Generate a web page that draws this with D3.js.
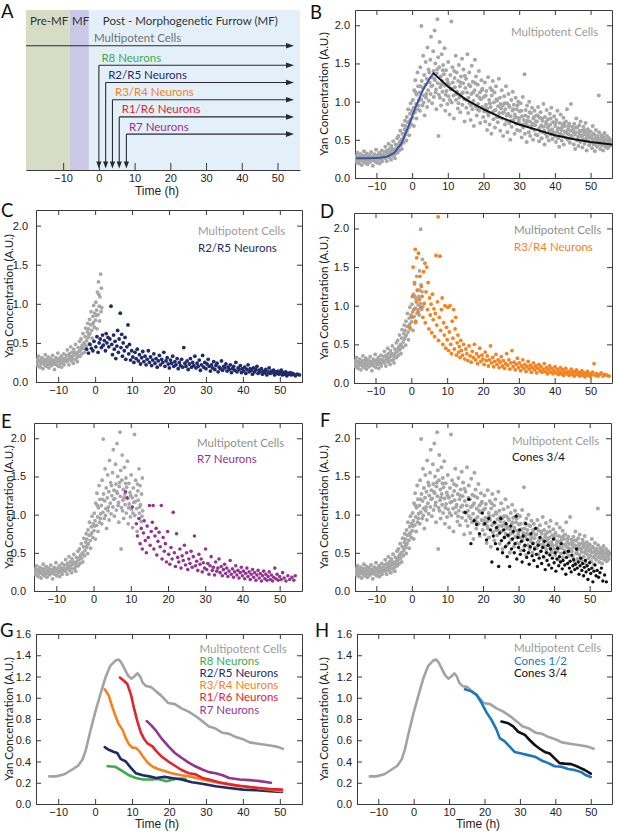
<!DOCTYPE html>
<html><head><meta charset="utf-8">
<script src="https://cdn.jsdelivr.net/npm/d3@7"></script>
<style>
body{margin:0;background:#fff;}
svg{display:block;}
.tk text{font-family:"Liberation Sans",Arial,sans-serif;font-size:11px;fill:#222;}
.tk path,.tk line{stroke:#3a3a3a;stroke-width:1;}
</style></head><body>
<svg id="c" width="617" height="833"></svg>
<script>
// ---------- DATA ----------
const timeTicks = [-10,0,10,20,30,40,50];
const concTicks = [0,0.5,1,1.5,2];
const avgTicks = [0,0.2,0.4,0.6,0.8,1.0,1.2,1.4,1.6];

// Panel A
const zoneNames = ["Pre-MF","MF","Post - Morphogenetic Furrow (MF)"];
const zoneFrom = [-20.4,-8.2,-2.8];
const zoneTo = [-8.2,-2.8,56.3];
const lineageNames = ["R8 Neurons","R2/R5 Neurons","R3/R4 Neurons","R1/R6 Neurons","R7 Neurons"];
const lineageStart = [0,1.9,3.8,5.7,7.7];

// Multipotent cells scatter [time (h), Yan (A.U.)]
const multipotentCells = [
[-15.8,0.24],[-15.6,0.29],[-15.5,0.21],[-15.3,0.33],[-15.1,0.26],[-14.9,0.19],[-14.8,0.28],[-14.6,0.23],[-14.4,0.31],[-14.2,0.25],[-14.1,0.17],[-13.9,0.27],[-13.7,0.22],[-13.5,0.35],[-13.4,0.26],[-13.2,0.2],[-13.0,0.29],[-12.8,0.24],[-12.7,0.32],[-12.5,0.18],[-12.3,0.27],[-12.2,0.23],[-12.0,0.3],
[-11.8,0.21],[-11.7,0.26],[-11.5,0.34],[-11.3,0.24],[-11.1,0.28],[-11.0,0.16],[-10.8,0.25],[-10.6,0.31],[-10.4,0.22],[-10.3,0.27],[-10.1,0.37],[-9.9,0.2],[-9.8,0.26],[-9.6,0.3],[-9.4,0.24],[-9.2,0.33],[-9.1,0.19],[-8.9,0.28],[-8.7,0.25],[-8.5,0.36],[-8.4,0.22],[-8.2,0.3],[-8.0,0.27],
[-7.8,0.34],[-7.6,0.26],[-7.5,0.41],[-7.3,0.29],[-7.1,0.22],[-7.0,0.36],[-6.8,0.31],[-6.6,0.45],[-6.5,0.27],[-6.3,0.38],[-6.1,0.33],[-5.9,0.24],[-5.8,0.42],[-5.6,0.35],[-5.4,0.29],[-5.3,0.48],[-5.1,0.37],[-4.9,0.31],[-4.8,0.26],[-4.6,0.44],[-4.4,0.39],[-4.2,0.52],[-4.1,0.33],
[-3.9,0.41],[-3.8,0.55],[-3.6,0.36],[-3.5,0.47],[-3.3,0.62],[-3.2,0.43],[-3.0,0.5],[-2.9,0.38],[-2.7,0.58],[-2.6,0.69],[-2.4,0.46],[-2.3,0.53],[-2.1,0.64],[-2.0,0.75],
[-1.9,0.57],[-1.8,0.68],[-1.6,0.49],[-1.5,0.8],[-1.4,0.62],[-1.2,0.73],[-1.1,0.9],[-0.9,0.66],[-0.8,0.56],[-0.6,0.84],[-0.5,0.76],[-0.4,0.98],[-0.2,0.7],[-0.1,0.88],
[0.1,0.79],[0.2,1.02],[0.4,0.92],[0.5,0.68],[0.6,1.15],[0.8,0.86],[0.9,1.28],[1.1,0.97],[1.2,0.78],[1.3,1.09],[1.5,1.38],[1.6,0.9],[1.7,1.2],[1.9,1.01],
[2.1,1.12],[2.2,0.88],[2.3,1.45],[2.5,1.03],[2.6,1.99],[2.7,1.27],[2.9,0.95],[3.0,1.18],[3.1,1.6],[3.3,1.08],[3.4,1.35],[3.5,0.82],[3.7,1.22],[3.8,1.52],[3.9,1.05],[4.1,1.3],[4.2,0.93],[4.3,1.71],[4.5,1.15],[4.6,1.42],[4.7,1.01],[4.9,1.25],
[5.1,1.55],[5.2,1.1],[5.3,1.85],[5.5,1.32],[5.6,0.98],[5.7,1.21],[5.9,1.66],[6.0,1.4],[6.1,1.06],[6.3,1.93],[6.4,1.28],[6.5,1.5],[6.7,1.16],[6.8,0.9],[6.9,1.37],[7.1,2.08],[7.2,1.24],[7.3,1.58],[7.4,0.55],[7.5,1.09],[7.6,1.45],[7.7,1.78],[7.9,1.19],[8.0,1.33],[8.1,0.95],[8.3,1.62],[8.4,1.27],[8.5,1.13],[8.7,1.48],[8.8,1.02],[8.9,1.36],[9.1,1.7],[9.2,1.21],
[9.3,0.88],[9.5,1.41],[9.6,1.14],[9.8,1.29],[9.9,0.97],[10.1,1.52],[10.2,1.07],[10.4,1.22],[10.5,0.83],[10.7,1.35],[10.8,1.16],[11.0,2.05],[11.1,0.99],[11.3,1.45],[11.4,1.25],[11.6,1.08],[11.7,0.78],[11.9,1.31],[12.0,1.19],[12.2,1.6],[12.3,1.02],[12.5,1.38],[12.6,1.13],[12.8,0.91],[12.9,1.27],[13.1,1.48],[13.2,1.05],[13.4,1.2],[13.5,0.86],[13.7,1.33],[13.8,1.1],[14.0,1.56],[14.1,0.96],[14.3,1.24],[14.4,1.42],[14.6,1.03],[14.7,0.74],[14.9,1.18],
[15.1,1.3],[15.2,0.92],[15.4,1.12],[15.5,1.62],[15.7,0.85],[15.8,1.05],[16.0,1.38],[16.1,0.98],[16.3,1.2],[16.4,0.76],[16.6,1.1],[16.7,1.47],[16.9,0.9],[17.0,1.26],[17.2,1.01],[17.3,0.68],[17.5,1.15],[17.6,1.55],[17.8,0.94],[17.9,1.33],[18.1,0.82],[18.2,1.08],[18.4,1.22],[18.5,0.97],[18.7,1.4],[18.8,0.88],[19.0,1.12],[19.1,0.72],[19.3,1.03],[19.4,1.28],[19.6,0.93],[19.7,1.17],[19.9,0.8],
[20.1,1.06],[20.2,0.87],[20.4,1.25],[20.5,0.74],[20.7,0.96],[20.8,1.14],[21.0,0.63],[21.1,0.91],[21.3,1.32],[21.4,0.82],[21.6,1.02],[21.7,0.7],[21.9,1.18],[22.0,0.93],[22.2,0.58],[22.3,1.08],[22.5,0.86],[22.6,1.27],[22.8,0.77],[22.9,0.99],[23.1,1.12],[23.2,0.66],[23.4,0.89],[23.5,1.2],[23.7,0.8],[23.8,1.01],[24.0,0.73],[24.1,0.94],[24.3,1.3],[24.4,0.85],[24.6,1.05],[24.7,0.62],[24.9,0.91],
[25.1,1.15],[25.2,0.78],[25.4,0.95],[25.5,0.55],[25.7,0.86],[25.8,1.07],[26.0,0.7],[26.1,0.9],[26.3,1.2],[26.4,0.75],[26.6,0.98],[26.7,0.6],[26.9,0.84],[27.0,1.1],[27.2,0.72],[27.3,0.93],[27.5,0.5],[27.6,0.81],[27.8,1.02],[27.9,0.67],[28.1,0.88],[28.2,1.13],[28.4,0.76],[28.5,0.96],[28.7,0.58],[28.8,0.83],[29.0,1.05],[29.1,0.71],[29.3,0.9],[29.4,0.63],[29.6,0.79],[29.7,1.0],[29.9,0.74],
[30.1,0.87],[30.2,0.62],[30.4,0.98],[30.5,0.7],[30.7,0.53],[30.8,0.81],[31.0,1.06],[31.1,0.66],[31.3,0.76],[31.5,1.36],[31.6,0.58],[31.8,0.89],[31.9,0.72],[32.1,0.47],[32.2,0.95],[32.4,0.68],[32.5,0.8],[32.7,0.6],[32.8,1.0],[33.0,0.74],[33.1,0.55],[33.3,0.85],[33.4,0.65],[33.6,0.92],[33.7,0.71],[33.9,0.5],[34.0,0.78],[34.2,0.63],[34.3,0.88],[34.5,0.69],[34.6,0.57],[34.8,0.82],
[35.0,0.74],[35.1,0.56],[35.3,0.93],[35.4,0.64],[35.6,0.48],[35.7,0.79],[35.9,0.61],[36.0,0.86],[36.2,0.69],[36.3,0.52],[36.5,0.75],[36.6,0.6],[36.8,0.97],[36.9,0.67],[37.1,0.44],[37.2,0.8],[37.4,0.58],[37.5,0.71],[37.7,0.89],[37.8,0.54],[38.0,0.66],[38.1,0.77],[38.3,0.49],[38.4,0.62],[38.6,0.84],[38.7,0.7],[38.9,0.57],[39.0,0.92],[39.2,0.64],[39.3,0.51],[39.5,0.73],[39.6,0.6],[39.8,0.81],
[40.0,0.55],[40.1,0.68],[40.3,0.47],[40.4,0.76],[40.6,0.6],[40.7,0.88],[40.9,0.52],[41.0,0.65],[41.2,0.41],[41.3,0.72],[41.5,0.58],[41.6,0.83],[41.8,0.63],[41.9,0.49],[42.1,0.7],[42.2,0.56],[42.4,0.79],[42.5,0.44],[42.7,0.61],[42.8,0.68],[43.0,0.53],[43.1,0.74],[43.3,0.59],[43.4,0.9],[43.6,0.5],[43.7,0.64],[43.9,0.57],[44.0,0.71],[44.2,0.46],[44.3,0.62],[44.5,0.97],[44.6,0.55],[44.8,0.67],
[45.0,0.52],[45.1,0.63],[45.3,0.44],[45.4,0.71],[45.6,0.57],[45.7,0.38],[45.9,0.6],[46.0,0.78],[46.2,0.49],[46.3,0.66],[46.5,0.54],[46.6,0.42],[46.8,0.69],[46.9,0.58],[47.1,0.47],[47.2,0.74],[47.4,0.55],[47.5,0.62],[47.7,0.4],[47.8,0.51],[48.0,0.67],[48.1,0.57],[48.3,0.45],[48.4,0.6],[48.6,0.72],[48.7,0.5],[48.9,0.36],[49.0,0.56],[49.2,0.64],[49.3,0.48],[49.5,0.58],[49.6,0.43],[49.8,0.53],
[50.0,0.61],[50.1,0.46],[50.3,0.55],[50.4,0.39],[50.6,0.68],[50.7,0.5],[50.9,0.44],[51.0,0.57],[51.2,0.35],[51.3,0.52],[51.5,0.63],[51.6,0.47],[51.8,0.41],[51.9,0.55],[52.1,0.49],[52.3,1.08],[52.4,0.6],[52.6,0.44],[52.7,0.38],[52.9,0.51],[53.0,0.56],[53.2,0.43],[53.3,0.48],[53.5,0.36],[53.6,0.53],[53.8,0.46],[53.9,0.59],[54.1,0.41],[54.2,0.5],[54.4,0.44],[54.6,0.55],[54.8,0.39],[55.0,0.47],[55.2,0.52],[55.4,0.42],[55.6,0.49],
[-15.4,0.27],[-14.5,0.26],[-13.6,0.29],[-12.9,0.22],[-11.9,0.28],[-11.2,0.23],[-10.2,0.29],[-9.5,0.27],[-8.6,0.3],[-7.7,0.29],[-6.9,0.33],[-6.2,0.29],[-5.5,0.38],[-4.7,0.35],[-3.7,0.44],[-2.8,0.48],[-1.7,0.6],[-0.7,0.74],[0.3,0.85],[1.0,1.12],[1.8,0.95],[2.4,1.2],[3.2,0.99],[4.0,1.1],[4.8,1.38],[5.4,1.2],[6.2,1.3],[6.6,1.12],[7.0,1.42],[7.8,1.05],[8.2,1.22],[8.6,1.41],[9.4,1.09],[10.0,1.25],[10.6,1.02],[11.2,1.17],[11.8,1.4],[12.4,1.1],[13.0,0.98],[13.6,1.25],[14.2,1.12],[14.8,1.34],
[15.3,1.02],[15.9,1.22],[16.5,0.95],[17.1,1.12],[17.7,1.24],[18.3,0.9],[18.9,1.05],[19.5,1.15],[20.0,0.92],[20.6,1.08],[21.2,0.85],[21.8,0.98],[22.4,1.15],[23.0,0.88],[23.6,1.03],[24.2,0.8],[24.8,0.97],[25.3,0.85],[25.9,0.98],[26.5,0.82],[27.1,0.95],[27.7,0.75],[28.3,0.9],[28.9,0.8],[29.5,0.95],[30.0,0.78],[30.6,0.88],[31.2,0.7],[31.7,0.82],[32.3,0.75],[32.9,0.86],[33.5,0.68],[34.1,0.8],[34.7,0.74],
[35.2,0.82],[35.8,0.66],[36.4,0.78],[37.0,0.62],[37.6,0.74],[38.2,0.68],[38.8,0.78],[39.4,0.6],[40.2,0.72],[40.8,0.64],[41.4,0.56],[42.0,0.66],[42.6,0.72],[43.2,0.6],[43.8,0.68],[44.4,0.52],[45.2,0.6],[45.8,0.66],[46.4,0.5],[47.0,0.62],[47.6,0.55],[48.2,0.63],[48.8,0.52],[49.4,0.6],[50.2,0.52],[50.8,0.58],[51.4,0.45],[52.0,0.53],[52.8,0.47],[53.4,0.55],[54.0,0.5],[54.5,0.42],[55.3,0.46]
];

const r2r5Neurons = [
[-2.3,0.42],[-1.8,0.37],[-1.4,0.48],[-1.0,0.43],[-0.6,0.4],[-0.3,0.52],[0.2,0.45],[0.5,0.58],[0.8,0.38],[1.1,0.5],[1.4,0.55],[1.7,0.44],[2.0,0.6],[2.2,0.47],[2.5,0.53],[2.8,0.4],[3.0,0.62],[3.2,0.5],[3.5,0.57],[3.7,0.45],[4.0,0.55],[4.3,0.97],[4.5,0.48],[4.7,0.35],[5.0,0.6],[5.2,0.42],[5.4,0.52],[5.6,0.3],[5.9,0.46],[6.1,0.66],[6.3,0.38],[6.5,0.55],[6.8,0.88],[7.0,0.44],[7.2,0.61],[7.4,0.33],[7.6,0.5],[7.9,0.4],[8.1,0.57],[8.3,0.29],[8.6,0.45],[8.9,0.73],[9.1,0.36],[9.3,0.48],[9.6,0.28],[9.9,0.4],
[10.2,0.32],[10.5,0.25],[10.8,0.38],[11.1,0.3],[11.4,0.42],[11.7,0.27],[12.0,0.35],[12.3,0.23],[12.6,0.31],[12.9,0.39],[13.2,0.26],[13.5,0.33],[13.8,0.22],[14.1,0.29],[14.4,0.4],[14.7,0.25],[15.0,0.32],[15.3,0.21],[15.6,0.28],[15.9,0.36],[16.2,0.24],[16.5,0.3],[16.8,0.19],[17.1,0.27],[17.4,0.34],[17.7,0.22],[18.0,0.29],[18.3,0.25],[18.6,0.38],[18.9,0.2],[19.2,0.27],[19.5,0.31],[19.8,0.23],
[20.1,0.18],[20.4,0.28],[20.7,0.24],[21.0,0.33],[21.3,0.2],[21.6,0.26],[21.9,0.22],[22.2,0.3],[22.5,0.17],[22.8,0.25],[23.1,0.21],[23.4,0.29],[23.7,0.19],[24.0,0.44],[24.3,0.24],[24.6,0.2],[24.9,0.27],[25.2,0.16],[25.5,0.23],[25.8,0.3],[26.1,0.19],[26.4,0.25],[26.7,0.21],[27.0,0.33],[27.3,0.18],[27.6,0.24],[27.9,0.2],[28.2,0.28],[28.5,0.15],[28.8,0.22],[29.1,0.34],[29.4,0.19],[29.7,0.25],
[30.0,0.17],[30.3,0.23],[30.6,0.29],[30.9,0.2],[31.2,0.14],[31.5,0.22],[31.8,0.18],[32.1,0.26],[32.4,0.16],[32.7,0.21],[33.0,0.24],[33.3,0.13],[33.6,0.19],[33.9,0.17],[34.2,0.27],[34.5,0.15],[34.8,0.2],[35.1,0.18],[35.4,0.23],[35.7,0.14],[36.0,0.19],[36.3,0.16],[36.6,0.22],[36.9,0.12],[37.2,0.17],[37.5,0.2],[37.8,0.15],[38.1,0.25],[38.4,0.13],[38.7,0.18],[39.0,0.16],[39.3,0.21],[39.6,0.12],[39.9,0.17],
[40.2,0.14],[40.5,0.19],[40.8,0.11],[41.1,0.16],[41.4,0.22],[41.7,0.13],[42.0,0.17],[42.3,0.15],[42.6,0.1],[42.9,0.18],[43.2,0.13],[43.5,0.16],[43.8,0.2],[44.1,0.11],[44.4,0.15],[44.7,0.13],[45.0,0.17],[45.3,0.1],[45.6,0.14],[45.9,0.12],[46.2,0.16],[46.5,0.09],[46.8,0.13],[47.1,0.18],[47.4,0.11],[47.7,0.14],[48.0,0.12],[48.3,0.15],[48.6,0.09],[48.9,0.13],[49.2,0.11],[49.5,0.14],[49.8,0.1],
[50.1,0.12],[50.4,0.15],[50.7,0.09],[51.0,0.12],[51.3,0.1],[51.6,0.13],[51.9,0.08],[52.2,0.11],[52.5,0.1],[52.8,0.12],[53.1,0.09],[53.4,0.11],[53.8,0.1],[54.2,0.08],[54.7,0.1],[55.3,0.09]
];

const r3r4Neurons = [
[-0.5,0.72],[0.1,0.86],[0.3,1.12],[0.5,1.5],[0.7,0.95],[0.9,1.3],[1.1,1.73],[1.2,0.8],[1.4,1.05],[1.5,1.62],[1.7,1.2],[1.9,0.92],[2.0,1.68],[2.2,1.08],[2.4,1.38],[2.6,0.98],[2.8,1.25],[3.0,1.12],[3.2,0.85],[3.4,1.44],[3.6,1.03],[3.8,1.55],[3.9,0.78],[4.1,1.18],[4.3,1.5],[4.5,0.95],[4.7,1.3],[4.9,0.7],
[5.1,1.1],[5.3,0.88],[5.5,1.02],[5.7,0.65],[5.9,1.15],[6.1,0.82],[6.3,0.96],[6.5,0.6],[6.7,0.9],[6.9,1.65],[7.1,0.75],[7.3,1.05],[7.5,2.15],[7.6,0.55],[7.8,0.85],[8.0,1.64],[8.2,0.68],[8.4,0.95],[8.6,1.1],[8.8,0.5],[9.0,0.78],[9.2,0.62],[9.4,1.0],[9.6,0.45],[9.8,0.72],
[10.0,0.56],[10.2,0.98],[10.4,0.42],[10.6,0.66],[10.8,1.0],[11.0,0.5],[11.2,0.38],[11.4,0.8],[11.6,0.58],[11.8,0.95],[12.0,0.44],[12.2,0.7],[12.4,0.85],[12.6,0.36],[12.8,0.52],[13.0,0.62],[13.2,0.4],[13.4,0.47],[13.6,0.33],[13.8,0.55],[14.0,0.42],[14.3,0.36],[14.6,0.5],[14.9,0.31],
[15.2,0.44],[15.5,0.38],[15.8,0.29],[16.1,0.48],[16.4,0.35],[16.7,0.27],[17.0,0.41],[17.3,0.33],[17.6,0.5],[17.9,0.3],[18.2,0.38],[18.5,0.25],[18.8,0.34],[19.1,0.45],[19.4,0.28],[19.7,0.36],
[20.0,0.31],[20.3,0.24],[20.6,0.4],[20.9,0.29],[21.2,0.35],[21.5,0.22],[21.8,0.3],[22.1,0.48],[22.4,0.26],[22.7,0.33],[23.0,0.21],[23.3,0.28],[23.6,0.37],[23.9,0.24],[24.2,0.3],[24.5,0.2],[24.8,0.27],[25.1,0.34],[25.4,0.22],[25.7,0.29],[26.0,0.19],[26.3,0.25],[26.6,0.38],[26.9,0.23],[27.2,0.3],[27.5,0.18],[27.8,0.26],[28.1,0.42],[28.4,0.21],[28.7,0.27],[29.0,0.17],[29.3,0.24],[29.6,0.32],[29.9,0.2],
[30.2,0.26],[30.5,0.16],[30.8,0.22],[31.1,0.3],[31.4,0.19],[31.7,0.24],[32.0,0.15],[32.3,0.21],[32.6,0.28],[32.9,0.18],[33.2,0.23],[33.5,0.14],[33.8,0.2],[34.1,0.26],[34.4,0.17],[34.7,0.22],[35.0,0.13],[35.3,0.19],[35.6,0.24],[35.9,0.16],[36.2,0.21],[36.5,0.14],[36.8,0.18],[37.1,0.25],[37.4,0.15],[37.7,0.2],[38.0,0.12],[38.3,0.17],[38.6,0.22],[38.9,0.14],[39.2,0.19],[39.5,0.12],[39.8,0.16],
[40.1,0.21],[40.4,0.13],[40.7,0.18],[41.0,0.11],[41.3,0.15],[41.6,0.2],[41.9,0.12],[42.2,0.17],[42.5,0.1],[42.8,0.14],[43.1,0.19],[43.4,0.12],[43.7,0.15],[44.0,0.1],[44.3,0.14],[44.6,0.18],[44.9,0.11],[45.2,0.15],[45.5,0.09],[45.8,0.13],[46.1,0.17],[46.4,0.11],[46.7,0.14],[47.0,0.09],[47.3,0.12],[47.6,0.16],[47.9,0.1],[48.2,0.13],[48.5,0.08],[48.8,0.12],[49.1,0.15],[49.4,0.1],[49.7,0.12],
[50.0,0.08],[50.3,0.11],[50.6,0.14],[51.0,0.25],[51.3,0.1],[51.7,0.12],[52.1,0.09],[52.5,0.11],[53.0,0.13],[53.5,0.09],[54.0,0.11],[54.6,0.1],[55.2,0.09]
];

const r7Neurons = [
[8.6,1.3],[9.0,1.22],[10.4,1.1],[11.5,0.88],[11.8,0.72],[12.2,0.95],[12.5,0.62],[12.8,0.82],[13.1,0.55],[13.4,0.76],[13.6,0.92],[13.9,0.66],[14.2,0.5],[14.4,0.85],[14.7,0.7],[15.0,1.12],[15.2,0.6],[15.5,0.78],[15.8,0.9],[16.0,1.12],[16.2,0.55],[16.5,0.72],[16.8,0.82],[17.0,0.47],[17.3,0.65],[17.6,0.77],[17.9,0.58],[18.2,1.12],[18.4,0.42],[18.7,0.7],[19.0,0.52],[19.3,0.62],[19.6,0.38],[19.9,0.78],
[20.2,0.48],[20.5,0.35],[20.8,0.57],[21.1,0.42],[21.4,1.03],[21.7,0.5],[22.0,0.32],[22.3,0.75],[22.6,0.44],[22.9,0.38],[23.2,0.55],[23.5,0.3],[23.8,0.46],[24.1,0.4],[24.4,0.6],[24.7,0.34],[25.0,0.5],[25.3,0.28],[25.6,0.42],[25.9,0.36],[26.2,0.52],[26.5,0.31],[26.8,0.45],[27.1,0.72],[27.4,0.33],[27.7,0.39],[28.0,0.27],[28.3,0.48],[28.6,0.35],[28.9,0.42],[29.2,0.25],[29.5,0.37],[29.8,0.3],
[30.1,0.55],[30.4,0.28],[30.7,0.36],[31.0,0.22],[31.3,0.33],[31.6,0.45],[31.9,0.27],[32.2,0.31],[32.5,0.21],[32.8,0.38],[33.1,0.26],[33.4,0.3],[33.7,0.42],[34.0,0.24],[34.3,0.32],[34.6,0.2],[34.9,0.28],[35.2,0.35],[35.5,0.23],[35.8,0.3],[36.1,0.19],[36.4,0.26],[36.7,0.4],[37.0,0.22],[37.3,0.29],[37.6,0.18],[37.9,0.25],[38.2,0.33],[38.5,0.21],[38.8,0.27],[39.1,0.17],[39.4,0.24],[39.7,0.31],
[40.0,0.2],[40.3,0.26],[40.6,0.16],[40.9,0.23],[41.2,0.3],[41.5,0.19],[41.8,0.25],[42.1,0.15],[42.4,0.22],[42.7,0.28],[43.0,0.18],[43.3,0.24],[43.6,0.14],[43.9,0.21],[44.2,0.27],[44.5,0.17],[44.8,0.23],[45.1,0.13],[45.4,0.2],[45.7,0.26],[46.0,0.16],[46.3,0.22],[46.6,0.14],[46.9,0.19],[47.2,0.25],[47.5,0.15],[47.8,0.21],[48.1,0.13],[48.4,0.18],[48.7,0.3],[49.0,0.16],[49.3,0.22],[49.6,0.14],
[50.0,0.19],[50.4,0.15],[50.8,0.24],[51.2,0.17],[51.7,0.13],[52.2,0.2],[52.7,0.15],[53.3,0.18],[53.8,0.14],[54.2,0.2]
];

const cones34Cells = [
[15.0,1.03],[16.0,1.2],[16.6,0.62],[17.5,0.92],[18.2,0.87],[19.0,0.75],[19.8,1.02],[20.5,0.88],[21.0,0.67],[21.6,0.95],[22.1,0.8],[22.5,0.38],[22.9,0.72],[23.2,0.9],[23.5,0.62],[23.8,0.83],[24.1,0.55],[24.4,0.32],[24.7,0.76],[25.0,0.95],[25.2,0.66],[25.5,0.5],[25.8,0.8],[26.0,0.7],[26.3,0.58],[26.5,0.88],[26.8,0.45],[27.0,0.73],[27.3,0.63],[27.5,0.32],[27.8,0.85],[28.0,0.55],[28.3,0.68],[28.5,0.78],[28.8,0.5],[29.0,0.62],[29.3,0.98],[29.5,0.42],[29.8,0.7],
[30.0,0.57],[30.3,0.8],[30.5,0.48],[30.8,0.65],[31.0,0.38],[31.3,0.72],[31.5,0.53],[31.8,0.6],[32.0,0.88],[32.3,0.44],[32.5,0.67],[32.8,0.5],[33.0,0.35],[33.3,0.58],[33.5,0.75],[33.8,0.46],[34.0,0.62],[34.3,0.4],[34.5,0.55],[34.8,0.82],[35.0,0.48],[35.3,0.32],[35.5,0.6],[35.8,0.43],[36.0,0.7],[36.3,0.52],[36.5,0.36],[36.8,0.57],[37.0,0.45],[37.3,0.65],[37.5,0.28],[37.8,0.5],[38.0,0.4],[38.3,0.6],[38.5,0.34],[38.8,0.47],[39.0,0.55],[39.3,0.3],[39.5,0.43],[39.8,0.68],
[40.0,0.37],[40.3,0.5],[40.5,0.26],[40.8,0.42],[41.0,0.56],[41.3,0.33],[41.5,0.45],[41.8,0.38],[42.0,0.62],[42.3,0.29],[42.5,0.4],[42.8,0.5],[43.0,0.34],[43.3,0.22],[43.5,0.44],[43.8,0.36],[44.0,0.52],[44.3,0.3],[44.5,0.39],[44.8,0.25],[45.0,0.47],[45.3,0.33],[45.5,0.41],[45.8,0.28],[46.0,0.35],[46.3,0.55],[46.5,0.3],[46.8,0.38],[47.0,0.22],[47.3,0.33],[47.5,0.43],[47.8,0.27],[48.0,0.36],[48.3,0.2],[48.5,0.31],[48.8,0.4],[49.0,0.25],[49.3,0.33],[49.5,0.15],[49.8,0.28],
[50.0,0.37],[50.3,0.23],[50.6,0.3],[50.9,0.12],[51.2,0.26],[51.5,0.34],[51.8,0.2],[52.1,0.27],[52.5,0.18],[52.9,0.24],[53.3,0.3],[53.7,0.13],[54.2,0.21],[54.7,0.12]
];

// Panel B fitted curves
const riseFit = [[-15.5,0.26],[-12,0.26],[-9,0.265],[-7,0.28],[-5,0.33],[-3,0.45],[-1,0.68],[1,0.93],[3,1.15],[5,1.31],[6,1.37]];
const decayFit = [[6,1.37],[10,1.2],[15,1.03],[20,0.9],[25,0.79],[30,0.7],[35,0.63],[40,0.56],[45,0.51],[50,0.47],[56,0.44]];

// Panels G/H moving averages
const avgMultipotent = [[-12.4,0.26],[-10.6,0.26],[-8.3,0.28],[-6.4,0.32],[-4.6,0.36],[-3.4,0.42],[-2.5,0.51],[-1.4,0.67],[0,0.86],[1.4,1.03],[2.8,1.19],[4.1,1.3],[5.5,1.35],[6.4,1.36],[7.1,1.33],[8.0,1.27],[8.9,1.21],[9.8,1.18],[10.6,1.2],[11.5,1.23],[12.2,1.2],[12.9,1.14],[13.8,1.11],[15.2,1.1],[16.5,1.06],[17.9,1.02],[19.8,0.95],[21.6,0.94],[23.4,0.9],[25.3,0.87],[27.1,0.83],[29.0,0.78],[30.8,0.73],[32.6,0.71],[34.5,0.67],[36.3,0.66],[38.1,0.63],[40.0,0.61],[41.8,0.58],[43.7,0.57],[45.5,0.56],[47.3,0.55],[49.2,0.54],[50.8,0.52]];
const avgR8 = [[3.4,0.356],[5.5,0.35],[7.4,0.31],[9.2,0.27],[11.0,0.245],[12.9,0.23],[15.2,0.23],[17.0,0.236],[19.3,0.214],[21.6,0.236],[23.4,0.24],[24.5,0.235]];
const avgR2R5 = [[2.6,0.535],[3.7,0.51],[5.1,0.49],[6.0,0.48],[6.9,0.425],[8.3,0.4],[9.7,0.34],[11.0,0.29],[12.9,0.27],[14.7,0.26],[16.5,0.245],[18.8,0.255],[20.7,0.245],[23.4,0.23],[26.2,0.205],[29.0,0.19],[32.6,0.167],[36.3,0.15],[40.0,0.135],[43.7,0.13],[47.3,0.12],[50.6,0.113]];
const avgR3R4 = [[2.6,1.08],[3.7,1.02],[4.6,0.92],[5.5,0.83],[6.4,0.75],[7.4,0.7],[8.3,0.62],[9.2,0.56],[10.1,0.53],[11.0,0.53],[11.9,0.5],[12.9,0.45],[14.2,0.39],[15.6,0.35],[17.0,0.33],[18.8,0.31],[20.7,0.29],[23.4,0.27],[26.2,0.255],[29.0,0.23],[32.6,0.205],[36.3,0.185],[40.0,0.17],[43.7,0.15],[47.3,0.135],[50.6,0.12]];
const avgR1R6 = [[6.7,1.19],[7.8,1.16],[8.7,1.13],[9.7,1.03],[10.6,0.89],[11.5,0.77],[12.4,0.67],[13.3,0.61],[14.2,0.57],[15.6,0.54],[16.5,0.5],[17.9,0.45],[19.8,0.4],[21.6,0.36],[23.4,0.32],[25.3,0.29],[27.1,0.28],[29.0,0.245],[30.8,0.23],[33.5,0.205],[36.3,0.185],[39.1,0.17],[41.8,0.16],[44.6,0.15],[47.3,0.14],[50.6,0.135]];
const avgR7 = [[14.0,0.78],[15.2,0.74],[16.5,0.69],[17.9,0.62],[19.8,0.545],[21.6,0.48],[23.4,0.435],[25.3,0.39],[27.1,0.355],[29.0,0.325],[30.8,0.3],[32.6,0.29],[34.5,0.27],[36.3,0.245],[39.1,0.23],[41.8,0.225],[44.6,0.215],[47.6,0.2]];
const avgCones12 = [[14.5,1.08],[16.3,1.06],[17.7,1.03],[19.2,0.95],[20.6,0.86],[22.0,0.79],[23.4,0.7],[24.3,0.62],[25.7,0.59],[27.1,0.54],[28.5,0.49],[30.4,0.475],[32.3,0.46],[34.2,0.445],[36.1,0.41],[38.0,0.385],[39.8,0.355],[41.7,0.35],[43.6,0.33],[45.4,0.32],[47.3,0.3],[48.7,0.27],[50.0,0.255]];
const avgCones34 = [[24.8,0.776],[26.7,0.76],[28.1,0.73],[29.5,0.68],[31.4,0.65],[32.8,0.6],[34.2,0.555],[35.6,0.52],[37.0,0.49],[38.4,0.475],[39.8,0.43],[41.2,0.385],[42.6,0.38],[44.5,0.375],[46.4,0.35],[48.3,0.32],[50.0,0.285]];

// ---------- STYLE ----------
const C = {grey:"#a7a7a7", greyTxt:"#9b9b9b", navy:"#1f2a6b", orange:"#f5821f", purple:"#92358f",
  red:"#e2252b", green:"#3cac4b", blue:"#1c77bd", fit:"#3954a5", black:"#111"};
const lineageColors = [C.green, C.navy, C.orange, C.red, C.purple];

const svg = d3.select("#c");
const FONT = "Lato, 'Open Sans', sans-serif";

function txt(x,y,s,opt={}){
  return svg.append("text").attr("x",x).attr("y",y).text(s)
    .attr("font-family",opt.ff||FONT).attr("font-size",opt.fs||11)
    .attr("fill",opt.fill||"#222").attr("text-anchor",opt.anchor||"start");
}

function panel(b, ymax, yticks, yfmt){
  const left = b.x0 < 200;
  const x = d3.scaleLinear().domain([-16,56]).range([b.x0,b.x1]);
  const y = d3.scaleLinear().domain([0,ymax]).range([b.y1,b.y0]);
  const g = svg.append("g").attr("class","tk");
  g.append("g").attr("transform",`translate(0,${b.y1})`)
    .call(d3.axisBottom(x).tickValues(timeTicks).tickSizeInner(-5).tickSizeOuter(0).tickPadding(4));
  g.append("g").attr("transform",`translate(0,${b.y0})`)
    .call(d3.axisTop(x).tickValues(timeTicks).tickSizeInner(-5).tickSizeOuter(0).tickFormat(""));
  g.append("g").attr("transform",`translate(${b.x0},0)`)
    .call(d3.axisLeft(y).tickValues(yticks).tickSizeInner(-5).tickSizeOuter(0).tickPadding(left && ymax>2 ? 8 : 5).tickFormat(d3.format(yfmt)));
  g.append("g").attr("transform",`translate(${b.x1},0)`)
    .call(d3.axisRight(y).tickValues(yticks).tickSizeInner(-5).tickSizeOuter(0).tickFormat(""));
  const tx = left ? 8.5 : 323;
  svg.append("text").attr("transform",`translate(${tx},${(b.y0+b.y1)/2}) rotate(-90)`)
    .attr("text-anchor","middle").attr("dominant-baseline","central")
    .attr("font-family",FONT).attr("font-size",11.5).attr("fill","#222")
    .text("Yan Concentration (A.U.)");
  return {x,y,b};
}

function dots(p, data, color, r){
  const clip = "clip"+Math.round(p.b.x0)+"_"+Math.round(p.b.y0);
  if (svg.select("#"+clip).empty())
    svg.append("clipPath").attr("id",clip).append("rect")
      .attr("x",p.b.x0).attr("y",p.b.y0).attr("width",p.b.x1-p.b.x0).attr("height",p.b.y1-p.b.y0);
  svg.append("g").attr("clip-path",`url(#${clip})`).selectAll("circle").data(data).join("circle")
    .attr("cx",d=>p.x(d[0])).attr("cy",d=>p.y(d[1])).attr("r",r).attr("fill",color);
}
function line(p, data, color, w){
  svg.append("path").datum(data).attr("fill","none").attr("stroke",color).attr("stroke-width",w)
    .attr("stroke-linejoin","round").attr("stroke-linecap","round")
    .attr("d",d3.line().x(d=>p.x(d[0])).y(d=>p.y(d[1])));
}

// ---------- PANEL A ----------
(function(){
  const xA = d3.scaleLinear().domain([-20.4,56.3]).range([26,300]);
  const top=10, bot=170;
  const zoneCols = ["#d7dcc5","#cbc8e7","#e3f0fa"];
  zoneNames.forEach((n,i)=>{
    svg.append("rect").attr("x",xA(zoneFrom[i])).attr("y",top)
      .attr("width",xA(zoneTo[i])-xA(zoneFrom[i])).attr("height",bot-top).attr("fill",zoneCols[i]);
  });
  txt(xA(zoneFrom[0])+4,25,zoneNames[0],{fs:11.5,fill:"#333"});
  txt(xA(zoneFrom[1])+2.5,25,zoneNames[1],{fs:11.5,fill:"#333"});
  txt(xA(zoneFrom[2])+14,25,zoneNames[2],{fs:11.5,fill:"#333"});
  const g = svg.append("g").attr("class","tk");
  g.append("g").attr("transform",`translate(0,${bot})`)
    .call(d3.axisBottom(xA).tickValues(timeTicks).tickSizeInner(-7).tickSizeOuter(0).tickPadding(4));
  g.select(".domain").attr("stroke","#555");
  const tipX = 294, ar = "#2b2b2b";
  const y0 = 45.7;
  svg.append("line").attr("x1",26).attr("x2",tipX-6).attr("y1",y0).attr("y2",y0).attr("stroke",ar).attr("stroke-width",1.1);
  svg.append("path").attr("d",`M${tipX},${y0} l-8,-2.8 v5.6 z`).attr("fill",ar);
  txt(94,41.5,"Multipotent Cells",{fs:11.5,fill:"#707070"});
  lineageNames.forEach((n,i)=>{
    const yy = 65.3 + i*17.2, xx = xA(lineageStart[i]);
    svg.append("line").attr("x1",xx).attr("x2",tipX-6).attr("y1",yy).attr("y2",yy).attr("stroke",ar).attr("stroke-width",1.1);
    svg.append("path").attr("d",`M${tipX},${yy} l-8,-2.8 v5.6 z`).attr("fill",ar);
    svg.append("line").attr("x1",xx).attr("x2",xx).attr("y1",yy).attr("y2",162).attr("stroke",ar).attr("stroke-width",1.1);
    svg.append("path").attr("d",`M${xx},168.5 l-2.6,-7 h5.2 z`).attr("fill",ar);
    txt(xx+2.5,yy-3.5,n,{fs:11.5,fill:lineageColors[i]});
  });
  txt(157,195,"Time (h)",{ff:"'Liberation Sans',Arial,sans-serif",fs:12,anchor:"middle"});
})();

// ---------- PANEL B ----------
const pB = panel({x0:355,x1:612,y0:10,y1:178},2.2,concTicks,".1f");
dots(pB, multipotentCells, C.grey, 2.0);
line(pB, riseFit, C.fit, 2);
line(pB, decayFit, C.black, 2);
txt(511,36,"Multipotent Cells",{fs:11.5,fill:C.greyTxt});

// ---------- PANEL C ----------
const pC = panel({x0:36,x1:302,y0:210,y1:382},2.2,concTicks,".1f");
dots(pC, multipotentCells.filter(d=>d[0]<=1.8), C.grey, 1.9);
dots(pC, r2r5Neurons, C.navy, 1.9);
txt(198,235,"Multipotent Cells",{fs:11.5,fill:C.greyTxt});
txt(198,252,"R2/R5 Neurons",{fs:11.5,fill:C.navy});

// ---------- PANEL D ----------
const pD = panel({x0:354,x1:612,y0:213,y1:383},2.2,concTicks,".1f");
dots(pD, multipotentCells.filter(d=>d[0]<=3.2), C.grey, 1.9);
dots(pD, r3r4Neurons, C.orange, 1.9);
txt(514,234,"Multipotent Cells",{fs:11.5,fill:"#8e8e8e"});
txt(514,251,"R3/R4 Neurons",{fs:11.5,fill:C.orange});

// ---------- PANEL E ----------
const pE = panel({x0:34,x1:302,y0:423,y1:591},2.2,concTicks,".1f");
dots(pE, multipotentCells.filter(d=>d[0]<=13.3), C.grey, 1.9);
dots(pE, r7Neurons, C.purple, 1.8);
txt(197,447,"Multipotent Cells",{fs:11.5,fill:"#8e8e8e"});
txt(197,463,"R7 Neurons",{fs:11.5,fill:C.purple});

// ---------- PANEL F ----------
const pF = panel({x0:355,x1:611,y0:423,y1:591},2.2,concTicks,".1f");
dots(pF, multipotentCells, C.grey, 2.0);
dots(pF, cones34Cells, C.black, 1.7);
txt(512,445,"Multipotent Cells",{fs:11.5,fill:C.greyTxt});
txt(512,461,"Cones 3/4",{fs:11.5,fill:C.black});

// ---------- PANEL G ----------
const pG = panel({x0:36,x1:302,y0:634,y1:804},1.6,avgTicks,".1f");
line(pG, avgMultipotent, "#a3a3a3", 2.6);
line(pG, avgR8, C.green, 2.6);
line(pG, avgR2R5, C.navy, 2.6);
line(pG, avgR3R4, C.orange, 2.6);
line(pG, avgR7, C.purple, 2.6);
line(pG, avgR1R6, C.red, 2.6);
[["Multipotent Cells",C.greyTxt],["R8 Neurons",C.green],["R2/R5 Neurons",C.navy],["R3/R4 Neurons",C.orange],["R1/R6 Neurons",C.red],["R7 Neurons",C.purple]]
  .forEach((d,i)=>txt(199.5,653+i*12.1,d[0],{fs:11.5,fill:d[1]}));
txt(157,828,"Time (h)",{ff:"'Liberation Sans',Arial,sans-serif",fs:12,anchor:"middle"});

// ---------- PANEL H ----------
const pH = panel({x0:357,x1:612,y0:634,y1:804},1.6,avgTicks,".1f");
line(pH, avgMultipotent, "#a3a3a3", 2.6);
line(pH, avgCones34, C.black, 2.6);
line(pH, avgCones12, C.blue, 2.6);
[["Multipotent Cells",C.greyTxt],["Cones 1/2",C.blue],["Cones 3/4",C.black]]
  .forEach((d,i)=>txt(514,652+i*12.5,d[0],{fs:11.5,fill:d[1]}));
txt(478,828,"Time (h)",{ff:"'Liberation Sans',Arial,sans-serif",fs:12,anchor:"middle"});

// ---------- PANEL LETTERS ----------
[["A",1,18],["B",310,18.5],["C",1,217],["D",320,218],["E",1,428],["F",320,427],["G",0,637],["H",315,637]]
  .forEach(d=>txt(d[1],d[2],d[0],{fs:18.5,fill:"#111"}));
</script></body></html>
